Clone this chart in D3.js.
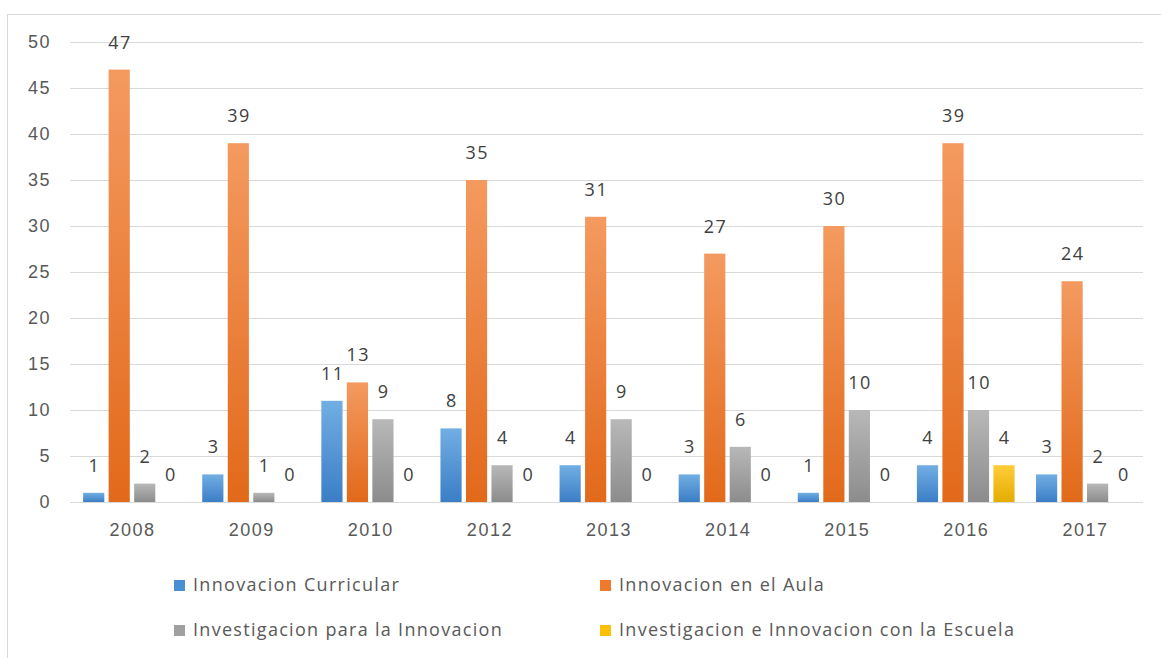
<!DOCTYPE html>
<html>
<head>
<meta charset="utf-8">
<script src="https://cdn.jsdelivr.net/npm/d3@7"></script>
<style>
  body { margin: 0; background: #fff; }
  svg { display: block; font-family: "Open Sans", "Noto Sans", sans-serif; }
</style>
</head>
<body>
<svg id="chart" width="1161" height="658"></svg>
<script>
// categories and series
var years = ["2008", "2009", "2010", "2012", "2013", "2014", "2015", "2016", "2017"];
var seriesNames = ["Innovacion Curricular", "Innovacion en el Aula", "Investigacion para la Innovacion", "Investigacion e Innovacion con la Escuela"];
var curricular = [1, 3, 11, 8, 4, 3, 1, 4, 3];
var aula = [47, 39, 13, 35, 31, 27, 30, 39, 24];
var investigacion = [2, 1, 9, 4, 9, 6, 10, 10, 2];
var escuela = [0, 0, 0, 0, 0, 0, 0, 4, 0];
var yTicks = [0, 5, 10, 15, 20, 25, 30, 35, 40, 45, 50];

var seriesValues = [curricular, aula, investigacion, escuela];
// gradient colours top -> bottom, like the excel fill
var colTop = ["#72aee3", "#f49a60", "#b8b8b8", "#ffcd3a"];
var colBot = ["#3b7ec6", "#e2691a", "#8c8c8c", "#e3ad00"];
var legendCol = ["#4a8fd6", "#ee7a2e", "#a0a0a0", "#fcc00a"];

var svg = d3.select("#chart");

// outer frame
svg.append("rect")
  .attr("x", 7.5).attr("y", 14.5)
  .attr("width", 1170).attr("height", 680)
  .attr("fill", "none").attr("stroke", "#d9d9d9");

var margin = {left: 73, right: 16, top: 42, bottom: 156};
var plotW = 1161 - margin.left - margin.right;
var plotH = 658 - margin.top - margin.bottom;

var g = svg.append("g").attr("transform", "translate(" + margin.left + "," + margin.top + ")");

var x0 = d3.scaleBand().domain(years).range([0, plotW]).padding(0);
var bw = x0.bandwidth();
var x1 = d3.scaleBand().domain(d3.range(4)).range([bw * 0.085, bw * 0.905]).paddingInner(0.17);
var y = d3.scaleLinear().domain([0, 50]).range([plotH, 0]);

// gradients
var defs = svg.append("defs");
seriesNames.forEach(function(s, i) {
  var lg = defs.append("linearGradient").attr("id", "grad" + i)
    .attr("x1", 0).attr("y1", 0).attr("x2", 0).attr("y2", 1);
  lg.append("stop").attr("offset", "0%").attr("stop-color", colTop[i]);
  lg.append("stop").attr("offset", "100%").attr("stop-color", colBot[i]);
});

// grid lines + y labels
var yAxis = g.append("g")
  .call(d3.axisLeft(y).tickValues(yTicks).tickSize(-plotW + 2).tickPadding(22));
yAxis.select(".domain").remove();
yAxis.selectAll(".tick line").attr("stroke", "#d9d9d9").attr("x1", -3);
yAxis.selectAll(".tick text")
  .attr("fill", "#595959").attr("font-size", 18).attr("letter-spacing", 1.5);

// x labels
var xAxis = g.append("g")
  .attr("transform", "translate(0," + plotH + ")")
  .call(d3.axisBottom(x0).tickSize(0).tickPadding(21));
xAxis.select(".domain").remove();
xAxis.selectAll(".tick text")
  .attr("fill", "#595959").attr("font-size", 18).attr("letter-spacing", 1.5);

// bars
var rows = years.map(function(yr, j) {
  return {year: yr, vals: seriesValues.map(function(arr) { return arr[j]; })};
});

var groups = g.selectAll(".grp").data(rows).enter().append("g")
  .attr("class", "grp")
  .attr("transform", function(d) { return "translate(" + x0(d.year) + ",0)"; });

groups.selectAll("rect")
  .data(function(d) { return d.vals.map(function(v, i) { return {i: i, v: v}; }); })
  .enter().append("rect")
  .attr("x", function(d) { return x1(d.i); })
  .attr("y", function(d) { return y(d.v); })
  .attr("width", x1.bandwidth())
  .attr("height", function(d) { return y(0) - y(d.v); })
  .attr("fill", function(d) { return "url(#grad" + d.i + ")"; });

// data labels
groups.selectAll(".lbl")
  .data(function(d) { return d.vals.map(function(v, i) { return {i: i, v: v}; }); })
  .enter().append("text")
  .attr("class", "lbl")
  .attr("x", function(d) { return x1(d.i) + x1.bandwidth() / 2 + 0.75; })
  .attr("y", function(d) { return y(d.v) - 21; })
  .attr("text-anchor", "middle")
  .attr("fill", "#404040")
  .attr("font-size", 18)
  .attr("letter-spacing", 1.5)
  .text(function(d) { return d.v; });

// legend
var legPos = [[174, 585], [600, 585], [174, 630], [600, 630]];
var leg = svg.append("g").selectAll("g").data(seriesNames).enter().append("g")
  .attr("transform", function(d, i) { return "translate(" + legPos[i][0] + "," + legPos[i][1] + ")"; });
leg.append("rect")
  .attr("x", 0).attr("y", -5).attr("width", 11).attr("height", 11)
  .attr("fill", function(d, i) { return legendCol[i]; });
leg.append("text")
  .attr("x", 19).attr("y", 0).attr("dy", "0.35em")
  .attr("fill", "#595959").attr("font-size", 18).attr("letter-spacing", 1.3)
  .text(function(d) { return d; });
</script>
</body>
</html>
